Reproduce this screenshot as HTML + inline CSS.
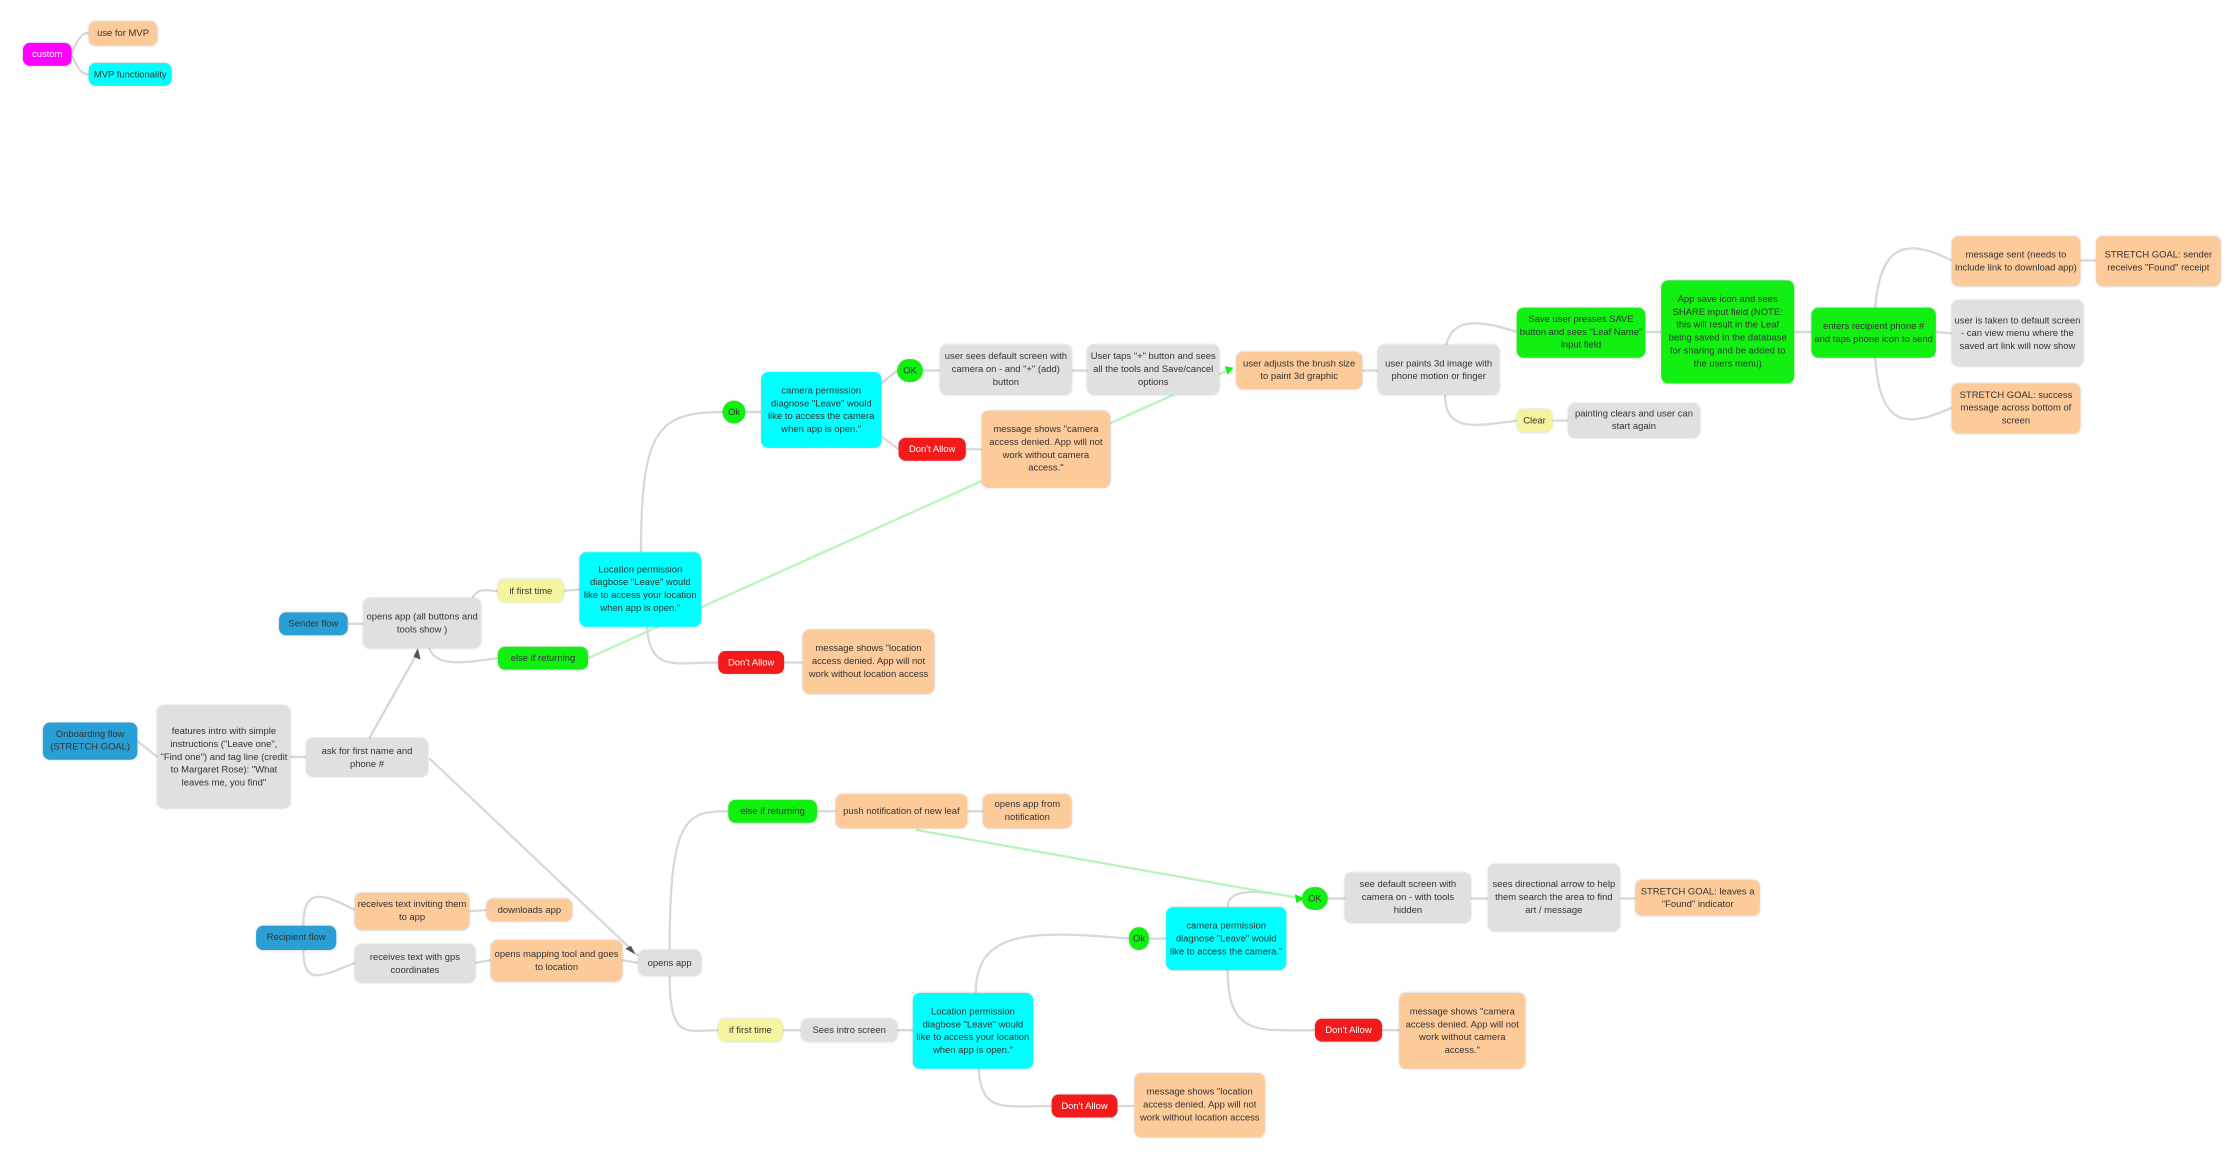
<!DOCTYPE html>
<html><head><meta charset="utf-8">
<style>
html,body{margin:0;padding:0;background:#fff;width:2232px;height:1154px;overflow:hidden}
#w{position:absolute;left:0;top:0;width:1560px;height:806px;transform:scale(1.4308);transform-origin:0 0}
svg{position:absolute;left:0;top:0}
.n{position:absolute;box-sizing:border-box;border-radius:5px;display:flex;align-items:center;justify-content:center;text-align:center;font-family:"Liberation Sans",sans-serif;font-size:6.6px;line-height:9px;color:#333;padding:1px 2px;overflow:hidden;box-shadow:0 0 1.5px rgba(0,0,0,.18)}
.g{background:#e0e0e0}.p{background:#fdca9a}.c{background:#00ffff}.gr{background:#12f012}.r{background:#f21a1a;color:#fff}.y{background:#f5f5a0}.b{background:#2a9fd6}.m{background:#ff00ff;color:#fff}
</style></head><body><div id="w">
<svg width="1560" height="806" fill="none" stroke="#d8d8d8" stroke-width="1.6">
<path d="M50 38 C55 25,58 23,62 23"/><path d="M50 38 C55 50,58 52,62 52"/>
<path d="M96 518 L110 529"/><path d="M203 529 L214 529"/>
<path d="M243 436 L254 436"/>
<path d="M330 418 C335 410,340 413,348 413"/>
<path d="M300 453 C305 468,330 462,348 460"/>
<path d="M394 413 L405 412"/>
<path d="M448 386 C448 300,460 288,505 288"/>
<path d="M452 438 C455 470,470 463,502 463"/>
<path d="M548 463 L561 463"/>
<path d="M521 288 L532 288"/><path d="M616 268 L627 259"/><path d="M616 305 L628 314"/>
<path d="M675 314 L686 314"/><path d="M645 259 L657 259"/><path d="M749 259 L760 259"/>
<path d="M952 259 L963 259"/>
<path d="M1010 250 C1010 222,1030 222,1060 232"/>
<path d="M1010 276 C1010 302,1030 298,1060 294"/>
<path d="M1085 294 L1096 294"/><path d="M1150 232 L1161 232"/><path d="M1254 232 L1266 232"/>
<path d="M1310 232 C1310 170,1330 165,1364 182"/>
<path d="M1353 232 L1364 233"/>
<path d="M1310 232 C1310 300,1330 300,1364 285"/>
<path d="M1454 182 L1465 182"/>
<path d="M212 647 C212 620,225 624,248 636"/>
<path d="M212 664 C212 690,225 682,248 673"/>
<path d="M328 637 L340 636"/><path d="M332 673 L343 671"/><path d="M435 671 L446 673"/>
<path d="M468 664 C468 570,480 567,509 567"/>
<path d="M468 682 C468 728,480 720,502 720"/>
<path d="M571 567 L584 567"/><path d="M676 567 L687 567"/>
<path d="M547 720 L560 720"/><path d="M627 720 L638 720"/>
<path d="M682 694 C682 650,720 650,789 656"/>
<path d="M684 747 C686 778,700 773,735 773"/>
<path d="M781 773 L793 773"/><path d="M803 656 L815 656"/>
<path d="M858 634 C858 620,880 622,910 628"/>
<path d="M858 678 C858 725,880 720,919 720"/>
<path d="M966 720 L978 720"/><path d="M928 628 L940 628"/><path d="M1028 628 L1040 628"/><path d="M1132 628 L1143 628"/>
<path d="M258 516 L292 456"/>
<path d="M300 530 L446 668"/>
<g stroke="#b8f5b8" stroke-width="1.6"><path d="M411 460 L860 258"/><path d="M640 580 L910 628"/></g>
<g fill="#555" stroke="none"><path d="M292 453 L294 461 L289 459 Z"/><path d="M444 667 L437 663 L441 661 Z"/></g>
<g fill="#12f012" stroke="none"><path d="M862 257 L856 256 L858 262 Z"/><path d="M912 628 L905 625 L906 631 Z"/></g>
</svg>

<div class="n m" style="left:16px;top:30px;width:34px;height:16px">custom</div>
<div class="n p" style="left:62px;top:15px;width:48px;height:17px">use for MVP</div>
<div class="n c" style="left:62px;top:44px;width:58px;height:16px">MVP functionality</div>

<div class="n b" style="left:30px;top:505px;width:66px;height:26px">Onboarding flow (STRETCH GOAL)</div>
<div class="n g" style="left:110px;top:493px;width:93px;height:72px">features intro with simple instructions ("Leave one", "Find one") and tag line (credit to Margaret Rose): "What leaves me, you find"</div>
<div class="n g" style="left:214px;top:516px;width:85px;height:27px">ask for first name and phone #</div>

<div class="n b" style="left:195px;top:428px;width:48px;height:16px">Sender flow</div>
<div class="n g" style="left:254px;top:418px;width:82px;height:35px">opens app (all buttons and tools show )</div>
<div class="n y" style="left:348px;top:405px;width:46px;height:16px">if first time</div>
<div class="n c" style="left:405px;top:386px;width:85px;height:52px">Location permission diagbose "Leave" would like to access your location when app is open."</div>
<div class="n gr" style="left:348px;top:452px;width:63px;height:16px">else if returning</div>
<div class="n r" style="left:502px;top:455px;width:46px;height:16px">Don't Allow</div>
<div class="n p" style="left:561px;top:440px;width:92px;height:45px">message shows "location access denied. App will not work without location access</div>
<div class="n gr" style="left:505px;top:280px;width:16px;height:16px;border-radius:8px">Ok</div>
<div class="n c" style="left:532px;top:260px;width:84px;height:53px">camera permission diagnose "Leave" would like to access the camera when app is open."</div>
<div class="n gr" style="left:627px;top:251px;width:18px;height:16px;border-radius:8px">OK</div>
<div class="n r" style="left:628px;top:306px;width:47px;height:16px">Don't Allow</div>
<div class="n g" style="left:657px;top:241px;width:92px;height:35px">user sees default screen with camera on - and "+" (add) button</div>
<div class="n g" style="left:760px;top:241px;width:92px;height:35px">User taps "+" button and sees all the tools and Save/cancel options</div>
<div class="n p" style="left:864px;top:246px;width:88px;height:26px">user adjusts the brush size to paint 3d graphic</div>
<div class="n p" style="left:686px;top:287px;width:90px;height:54px">message shows "camera access denied. App will not work without camera access."</div>
<div class="n g" style="left:963px;top:241px;width:85px;height:35px">user paints 3d image with phone motion or finger</div>
<div class="n gr" style="left:1060px;top:215px;width:90px;height:35px">Save user presses SAVE button and sees "Leaf Name" input field</div>
<div class="n gr" style="left:1161px;top:196px;width:93px;height:72px">App save icon and sees SHARE input field (NOTE: this will result in the Leaf being saved in the database for sharing and be added to the users menu)</div>
<div class="n gr" style="left:1266px;top:215px;width:87px;height:35px">enters recipient phone # and taps phone icon to send</div>
<div class="n p" style="left:1364px;top:165px;width:90px;height:35px">message sent (needs to include link to download app)</div>
<div class="n p" style="left:1465px;top:165px;width:87px;height:35px">STRETCH GOAL: sender receives "Found" receipt</div>
<div class="n g" style="left:1364px;top:210px;width:92px;height:46px">user is taken to default screen - can view menu where the saved art link will now show</div>
<div class="n p" style="left:1364px;top:268px;width:90px;height:35px">STRETCH GOAL: success message across bottom of screen</div>
<div class="n y" style="left:1060px;top:286px;width:25px;height:16px">Clear</div>
<div class="n g" style="left:1096px;top:282px;width:92px;height:24px">painting clears and user can start again</div>

<div class="n b" style="left:179px;top:647px;width:56px;height:17px">Recipient flow</div>
<div class="n p" style="left:248px;top:624px;width:80px;height:26px">receives text inviting them to app</div>
<div class="n p" style="left:340px;top:628px;width:60px;height:16px">downloads app</div>
<div class="n g" style="left:248px;top:660px;width:84px;height:27px">receives text with gps coordinates</div>
<div class="n p" style="left:343px;top:657px;width:92px;height:29px">opens mapping tool and goes to location</div>
<div class="n g" style="left:446px;top:664px;width:44px;height:18px">opens app</div>
<div class="n gr" style="left:509px;top:559px;width:62px;height:16px">else if returning</div>
<div class="n p" style="left:584px;top:555px;width:92px;height:24px">push notification of new leaf</div>
<div class="n p" style="left:687px;top:555px;width:62px;height:24px">opens app from notification</div>
<div class="n y" style="left:502px;top:712px;width:45px;height:16px">if first time</div>
<div class="n g" style="left:560px;top:712px;width:67px;height:16px">Sees intro screen</div>
<div class="n c" style="left:638px;top:694px;width:84px;height:53px">Location permission diagbose "Leave" would like to access your location when app is open."</div>
<div class="n gr" style="left:789px;top:648px;width:14px;height:16px;border-radius:7px">Ok</div>
<div class="n c" style="left:815px;top:634px;width:84px;height:44px">camera permission diagnose "Leave" would like to access the camera."</div>
<div class="n gr" style="left:910px;top:620px;width:18px;height:16px;border-radius:8px">OK</div>
<div class="n g" style="left:940px;top:610px;width:88px;height:35px">see default screen with camera on - with tools hidden</div>
<div class="n g" style="left:1040px;top:604px;width:92px;height:47px">sees directional arrow to help them search the area to find art / message</div>
<div class="n p" style="left:1143px;top:615px;width:87px;height:25px">STRETCH GOAL: leaves a "Found" indicator</div>
<div class="n r" style="left:919px;top:712px;width:47px;height:16px">Don't Allow</div>
<div class="n p" style="left:978px;top:694px;width:88px;height:53px">message shows "camera access denied. App will not work without camera access."</div>
<div class="n r" style="left:735px;top:765px;width:46px;height:16px">Don't Allow</div>
<div class="n p" style="left:793px;top:750px;width:91px;height:45px">message shows "location access denied. App will not work without location access</div>
</div></body></html>
